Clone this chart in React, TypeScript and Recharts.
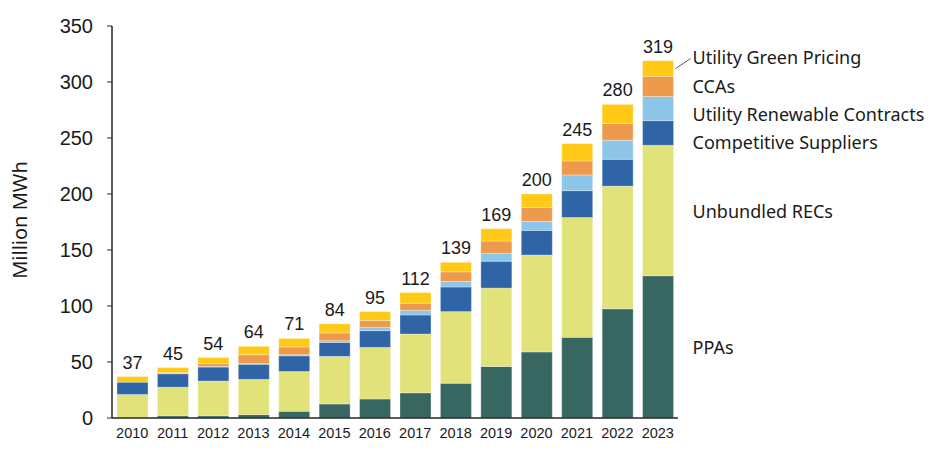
import { BarChart, Bar, XAxis, YAxis, LabelList } from 'recharts';

const years = ['2010', '2011', '2012', '2013', '2014', '2015', '2016', '2017', '2018', '2019', '2020', '2021', '2022', '2023'];
const ppas = [0.5, 2, 2, 3, 6, 12.5, 17, 22.5, 31, 46, 59, 72, 97.5, 127];
const unbundledRecs = [20.5, 25.5, 31, 31.5, 35.5, 42.5, 46, 52.5, 64, 70, 86.5, 107, 109.5, 116.5];
const competitiveSuppliers = [11, 12, 12.5, 13.5, 14, 12.5, 15, 17, 22, 24, 22, 24, 24, 22];
const utilityContracts = [0, 0.5, 0.5, 0.5, 1, 1.5, 3, 4, 5, 7, 8, 14, 17, 21.5];
const ccas = [0, 0.5, 2.5, 8, 7, 7, 6, 6.5, 8.5, 11, 12.5, 12.5, 15, 18];
const greenPricing = [5, 4.5, 5.5, 7.5, 7.5, 8, 8, 9.5, 8.5, 11, 12, 15.5, 17, 14];
const totals = [37, 45, 54, 64, 71, 84, 95, 112, 139, 169, 200, 245, 280, 319];
const yTicks = [0, 50, 100, 150, 200, 250, 300, 350];

const lastYear = years[years.length - 1];

const data = years.map((year, i) => ({
  year,
  ppas: ppas[i],
  recs: unbundledRecs[i],
  competitive: competitiveSuppliers[i],
  contracts: utilityContracts[i],
  ccas: ccas[i],
  green: greenPricing[i],
  total: totals[i],
}));

const series = [
  { key: 'ppas', name: 'PPAs', color: '#386660', dy: 0 },
  { key: 'recs', name: 'Unbundled RECs', color: '#E1E27A', dy: 0 },
  { key: 'competitive', name: 'Competitive Suppliers', color: '#2F64A6', dy: 9 },
  { key: 'contracts', name: 'Utility Renewable Contracts', color: '#8DC6E8', dy: 5 },
  { key: 'ccas', name: 'CCAs', color: '#EE9A4D', dy: 0 },
  { key: 'green', name: 'Utility Green Pricing', color: '#FFC915', dy: -12 },
];

const labelFont = '"Noto Sans", sans-serif';
const numFont = '"Liberation Sans", Arial, sans-serif';

// series name next to the last bar only
const sideLabel = (dy: number, leader: boolean) => (props: any) => {
  const { x, y, width, height, value } = props;
  if (!value) return null;
  const cx = Number(x) + Number(width);
  const cy = Number(y) + Number(height) / 2;
  return (
    <g>
      {leader && (
        <line x1={cx + 2} y1={cy} x2={cx + 17} y2={cy + dy + 2} stroke="#595959" strokeWidth={1} />
      )}
      <text
        x={cx + 19}
        y={cy + dy}
        dominantBaseline="central"
        fontFamily={labelFont}
        fontSize={18}
        fill="#1a1a1a"
      >
        {value}
      </text>
    </g>
  );
};

export default function App() {
  return (
    <div style={{ position: 'absolute', left: 0, top: 0, background: '#fff' }}>
      <BarChart
        width={940}
        height={452}
        data={data}
        margin={{ top: 26, right: 262, bottom: 0, left: 0 }}
        barSize={31}
      >
        <XAxis
          dataKey="year"
          tickLine={false}
          axisLine={{ stroke: '#262626', strokeWidth: 1.5 }}
          tick={{ fill: '#1a1a1a', fontSize: 14.5, fontFamily: numFont }}
          tickMargin={4}
          height={34}
        />
        <YAxis
          domain={[0, 350]}
          ticks={yTicks}
          width={112}
          tickSize={5}
          tickMargin={14}
          tickLine={{ stroke: '#262626' }}
          axisLine={{ stroke: '#262626', strokeWidth: 1.5 }}
          tick={{ fill: '#1a1a1a', fontSize: 20, fontFamily: numFont }}
          label={{
            value: 'Million MWh',
            angle: -90,
            position: 'center',
            dx: -36,
            dy: -2,
            style: { fontFamily: labelFont, fontSize: 20, fill: '#1a1a1a', textAnchor: 'middle' },
          }}
        />
        {series.map((s) => (
          <Bar
            key={s.key}
            dataKey={s.key}
            name={s.name}
            stackId="a"
            fill={s.color}
            stroke="#ffffff"
            strokeOpacity={0.5}
            strokeWidth={0.6}
            isAnimationActive={false}
          >
            <LabelList
              dataKey={(d: any) => (d.year === lastYear ? s.name : '')}
              content={sideLabel(s.dy, s.key === 'green')}
            />
            {s.key === 'green' && (
              <LabelList
                dataKey="total"
                position="top"
                offset={8}
                fill="#1a1a1a"
                fontSize={18}
                fontFamily={numFont}
              />
            )}
          </Bar>
        ))}
      </BarChart>
    </div>
  );
}
